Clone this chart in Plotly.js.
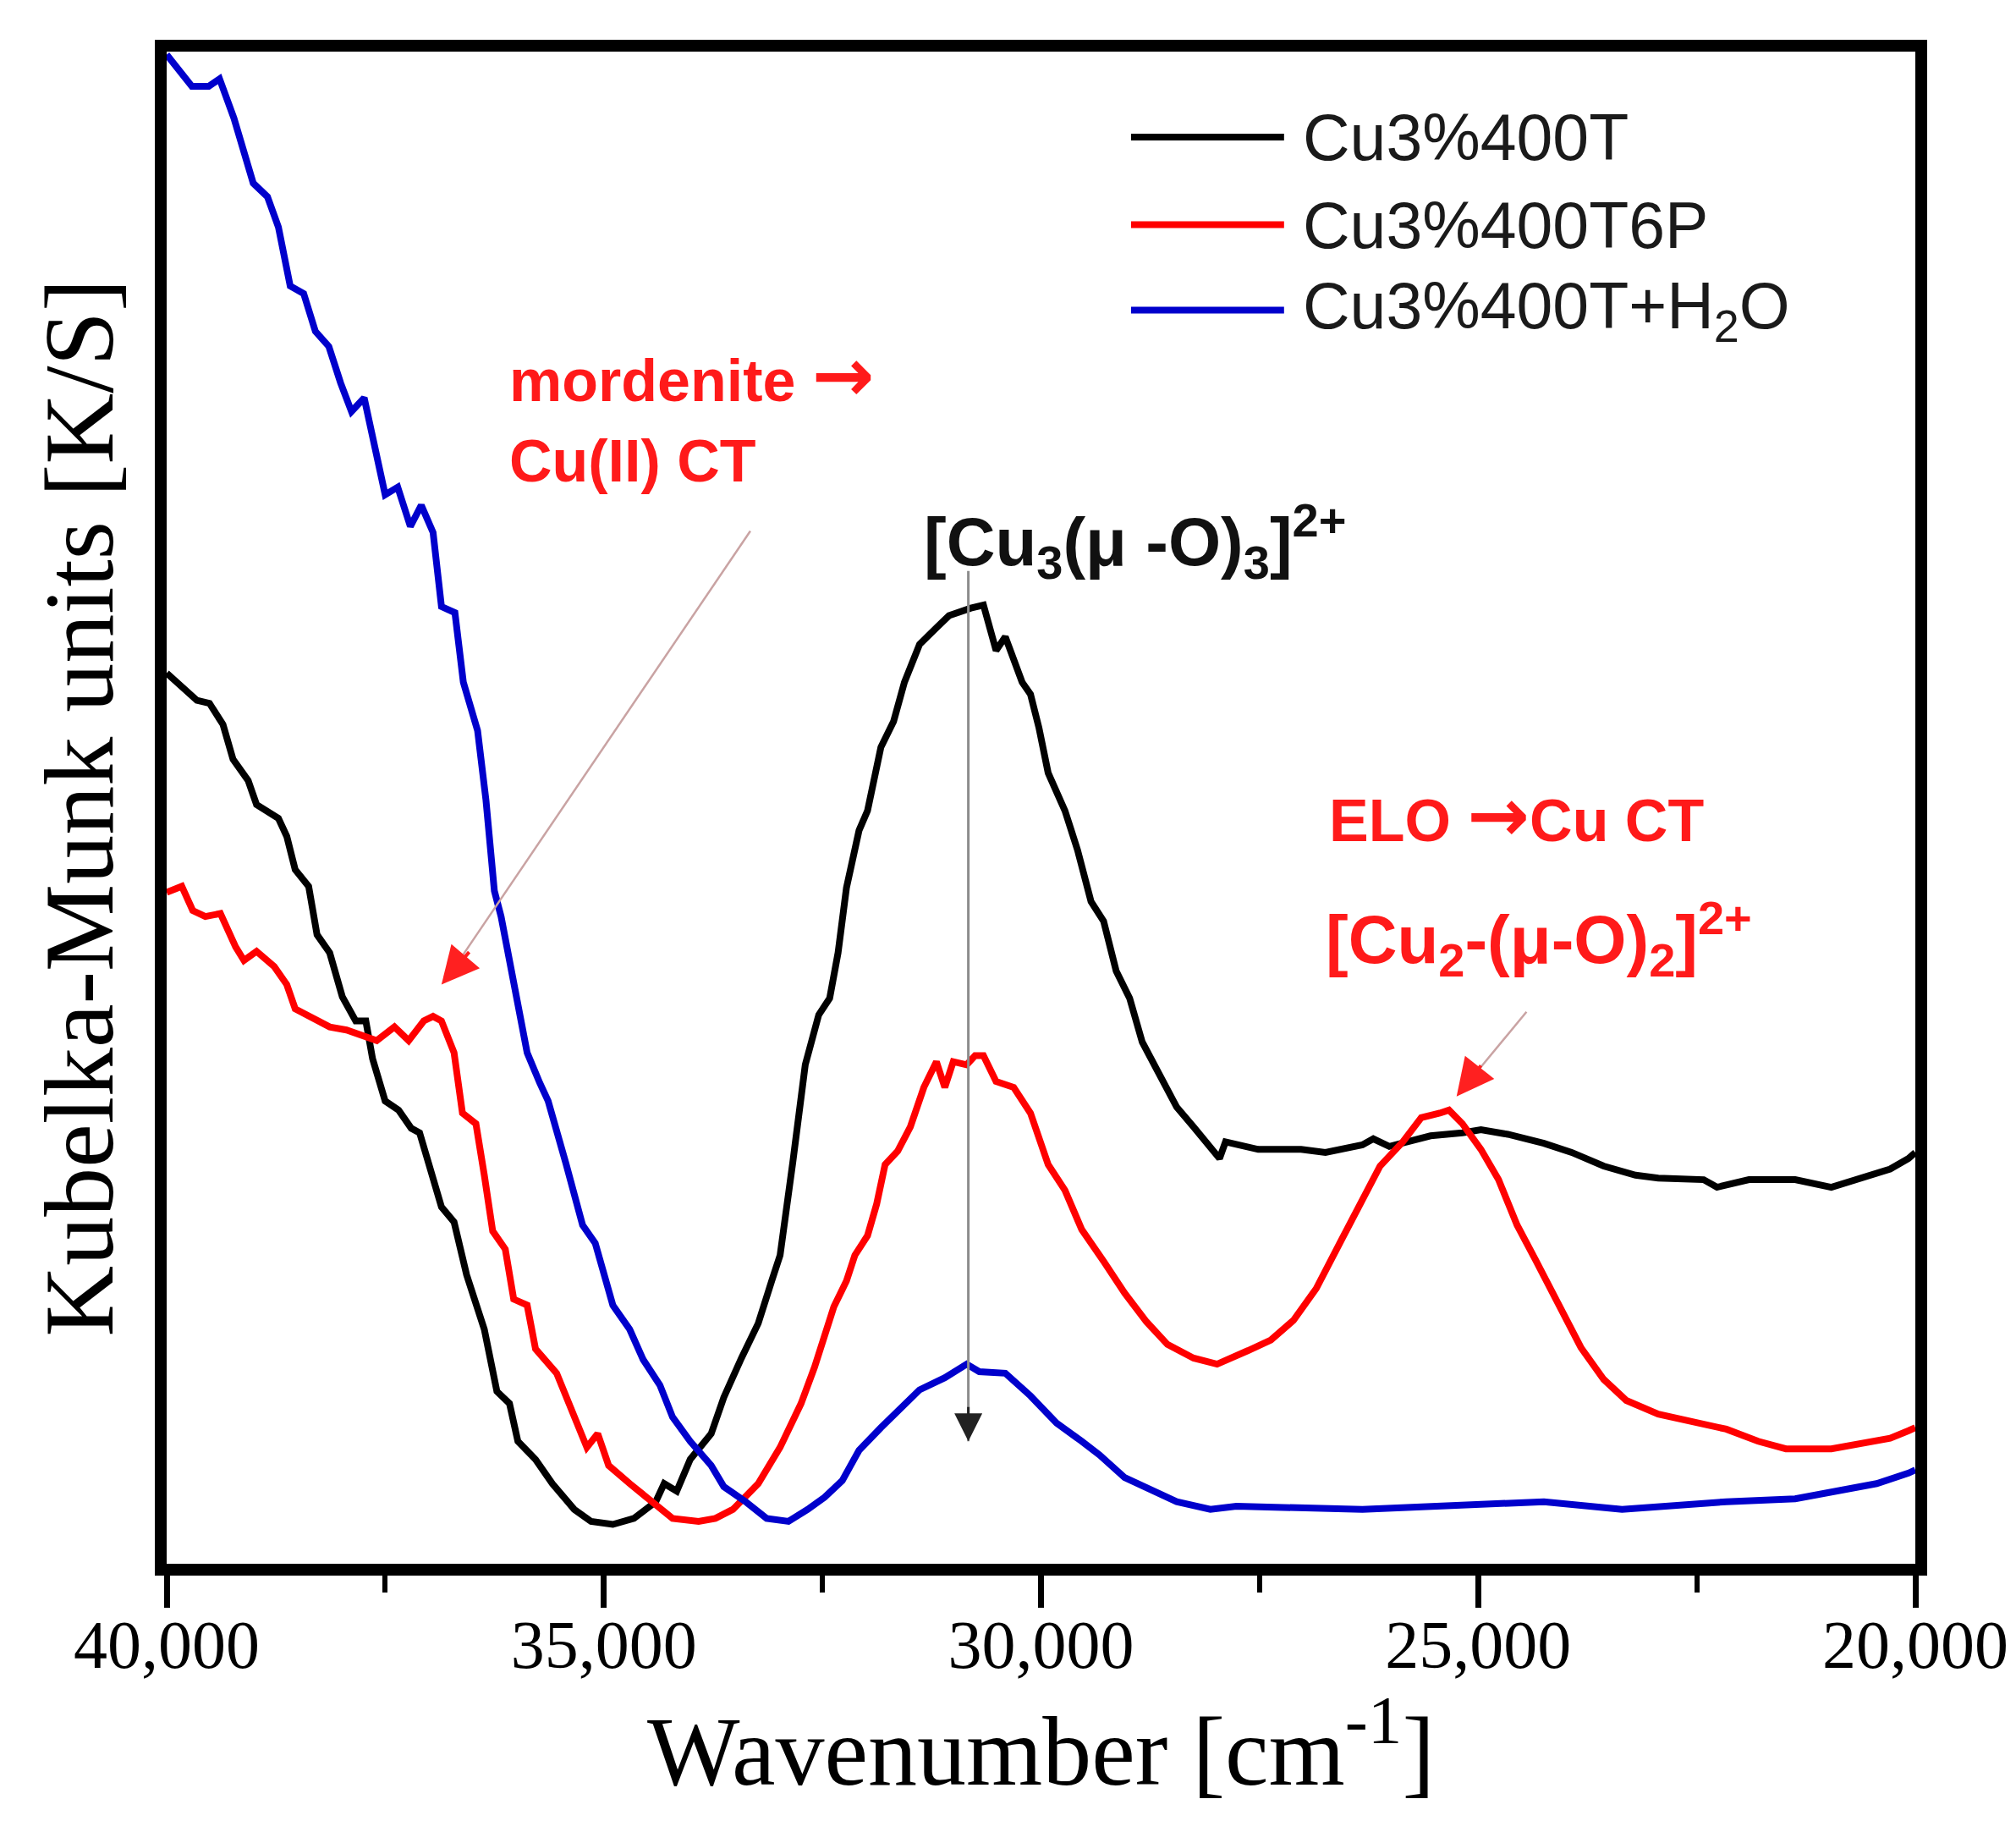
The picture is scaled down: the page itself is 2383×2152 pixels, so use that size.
<!DOCTYPE html>
<html>
<head>
<meta charset="utf-8">
<script src="https://cdn.plot.ly/plotly-3.0.1.min.js"></script>
<style>html,body{margin:0;padding:0;background:#fff;}#chart{width:2383px;height:2152px;}</style>
</head>
<body>
<div id="chart"></div>
<script>
// ---- Data (y in arbitrary K/S units, 0-100) ----
const seriesNames = ['Cu3%400T', 'Cu3%400T6P', 'Cu3%400T+H<sub>2</sub>O'];
const seriesColors = ['#000000', '#ff0000', '#0000cc'];

const wnBlack = [40000,39654,39510,39356,39241,39068,38972,38722,38626,38530,38376,38280,38135,37991,37838,37722,37645,37501,37347,37203,37107,36953,36857,36713,36569,36367,36223,36079,35983,35781,35589,35339,35146,34897,34656,34406,34310,34166,34012,33772,33628,33426,33234,33080,32984,32840,32696,32542,32417,32321,32225,32081,31984,31831,31686,31562,31389,31196,31052,30802,30658,30514,30408,30216,30120,30024,29918,29726,29582,29428,29284,29140,28986,28842,28650,28448,28256,28063,27958,27890,27515,27025,26747,26324,26199,26016,25545,25180,24968,24661,24248,23930,23565,23200,22940,22421,22268,21903,21374,20961,20596,20288,20077,20000];
const kmBlack = [58.9,57.1,56.9,55.5,53.2,51.8,50.2,49.3,48.1,45.9,44.8,41.6,40.4,37.5,35.9,35.9,33.4,30.6,30.0,28.8,28.5,25.3,23.6,22.6,19.1,15.5,11.4,10.6,8.1,6.9,5.3,3.6,2.8,2.6,3.0,4.1,5.3,4.8,6.9,8.6,11.0,13.6,15.9,18.7,20.4,26.5,33.0,36.3,37.4,40.4,44.7,48.5,49.8,54.0,55.7,58.3,60.8,61.9,62.7,63.2,63.4,60.4,61.3,58.3,57.5,55.3,52.3,49.8,47.2,43.8,42.5,39.2,37.4,34.5,32.3,30.2,28.9,27.6,26.8,27.9,27.4,27.4,27.2,27.7,28.1,27.6,28.3,28.5,28.7,28.4,27.8,27.2,26.3,25.7,25.5,25.4,24.9,25.4,25.4,24.9,25.5,26.1,26.8,27.2];

const wnRed = [40000,39827,39702,39558,39385,39212,39116,38972,38770,38626,38530,38328,38135,37943,37741,37597,37395,37232,37059,36953,36857,36713,36617,36463,36367,36271,36127,36031,35877,35781,35540,35339,35194,35070,34945,34704,34454,34214,33916,33724,33522,33234,32984,32744,32590,32369,32225,32129,31984,31879,31783,31638,31494,31340,31196,31100,31004,30850,30754,30658,30514,30312,30120,29918,29726,29534,29284,29043,28793,28553,28255,27986,27631,27371,27112,26852,26583,26324,26122,25862,25651,25439,25334,25180,24968,24767,24555,24344,24084,23825,23565,23306,22940,22421,22162,21797,21480,20961,20596,20288,20077,20000];
const kmRed = [44.4,44.8,43.2,42.8,43.0,40.8,39.9,40.5,39.5,38.3,36.7,36.1,35.5,35.3,34.9,34.6,35.5,34.6,35.9,36.2,35.9,33.8,29.8,29.1,25.7,22.0,20.8,17.5,17.1,14.2,12.6,9.8,7.7,8.6,6.5,5.3,4.1,3.0,2.8,3.0,3.6,5.3,7.7,10.6,13.0,17.0,18.7,20.4,21.7,23.8,26.4,27.3,28.9,31.5,33.2,31.5,33.2,33.0,33.6,33.6,31.9,31.5,29.8,26.4,24.7,22.1,20.0,17.9,16.0,14.5,13.6,13.2,14.1,14.8,16.1,18.2,21.2,24.2,26.3,27.9,29.5,29.8,30.0,29.1,27.4,25.4,22.4,20.1,17.1,14.3,12.2,10.8,9.9,9.3,8.9,8.1,7.6,7.6,8.0,8.3,8.8,9.0];

const wnBlue = [40000,39712,39519,39395,39231,39010,38847,38722,38587,38433,38299,38145,38011,37886,37741,37626,37501,37357,37213,37088,36953,36857,36703,36607,36444,36348,36252,36175,36031,35877,35733,35637,35435,35243,35098,34897,34704,34550,34358,34214,34012,33772,33628,33378,33138,32888,32667,32475,32273,32081,31831,31686,31389,31100,30850,30706,30408,30120,29822,29534,29332,29043,28745,28448,28063,27765,26324,25286,24248,23354,22162,21374,20855,20442,20077,20000];
const kmBlue = [99.8,97.7,97.7,98.2,95.6,91.3,90.4,88.4,84.5,84.0,81.5,80.5,78.1,76.2,77.1,73.9,70.7,71.2,68.6,70.0,68.2,63.3,62.9,58.3,55.1,50.5,44.5,42.8,38.7,33.8,31.8,30.6,26.5,22.4,21.2,17.1,15.5,13.5,11.8,9.7,8.1,6.5,5.1,4.1,3.0,2.8,3.6,4.4,5.5,7.5,9.0,9.8,11.5,12.3,13.2,12.7,12.6,11.1,9.3,8.1,7.2,5.7,4.9,4.1,3.6,3.8,3.6,3.9,4.1,3.6,4.1,4.3,4.8,5.3,6.0,6.2];

const xTickVals = [40000, 35000, 30000, 25000, 20000];
const xTickText = ['40,000', '35,000', '30,000', '25,000', '20,000'];
const xMinorVals = [37500, 32500, 27500, 22500];

const serif = 'Liberation Serif, Times New Roman, serif';
const sans = 'Liberation Sans, Arial, sans-serif';
const ARROW = '<span style="font-family:DejaVu Sans;font-size:88px">→</span>';

const xs = [wnBlack, wnRed, wnBlue];
const ys = [kmBlack, kmRed, kmBlue];
const traces = xs.map((x, i) => ({
  type: 'scatter', mode: 'lines', x: x, y: ys[i], name: seriesNames[i],
  line: {color: seriesColors[i], width: 8}, showlegend: false, hoverinfo: 'skip'
}));

// manual legend (long line samples as in the reference)
const legY = [0.9435, 0.8855, 0.829];
const shapes = seriesNames.map((n, i) => ({
  type: 'line', xref: 'paper', yref: 'paper', x0: 0.5515, x1: 0.639, y0: legY[i], y1: legY[i],
  line: {color: seriesColors[i], width: 8}
}));
const annotations = seriesNames.map((n, i) => ({
  xref: 'paper', yref: 'paper', x: 0.6488, y: legY[i], xanchor: 'left', yanchor: 'middle',
  text: n, showarrow: false, font: {family: sans, size: 77, color: '#1a1a1a'}
}));

// pointer line for mordenite label (pale line, red head)
shapes.push({type: 'line', xref: 'x', yref: 'y', x0: 36857 - 3533, y0: 38.3 + 30.0, x1: 36857 - 250, y1: 38.3 + 2.0,
  line: {color: '#c9a3a3', width: 2.5}});
annotations.push({x: 36857, y: 38.3, xref: 'x', yref: 'y', text: '', showarrow: true,
  ax: 34, ay: -40, arrowhead: 2, arrowsize: 2.2, arrowwidth: 4, arrowcolor: '#ff2020'});
// pointer line for [Cu2(mu-O)2] label
shapes.push({type: 'line', xref: 'x', yref: 'y', x0: 25247 - 800, y0: 30.9 + 5.6, x1: 25247 - 200, y1: 30.9 + 1.4,
  line: {color: '#c9a3a3', width: 2.5}});
annotations.push({x: 25247, y: 30.9, xref: 'x', yref: 'y', text: '', showarrow: true,
  ax: 30, ay: -38, arrowhead: 2, arrowsize: 2.2, arrowwidth: 4, arrowcolor: '#ff2020'});
// vertical grey arrow through the 31,000 band
annotations.push({x: 30831, y: 8.1, xref: 'x', yref: 'y', text: '', showarrow: true,
  ax: 0, ay: -1030, arrowhead: 0, arrowwidth: 3, arrowcolor: '#8c8c8c'});
annotations.push({x: 30831, y: 8.1, xref: 'x', yref: 'y', text: '', showarrow: true,
  ax: 0, ay: -42, arrowhead: 2, arrowsize: 2.2, arrowwidth: 3, arrowcolor: '#222222'});

// text labels
const redBold = {family: sans, size: 70, color: '#ff1a1a', weight: 'bold'};
annotations.push({xref: 'paper', yref: 'paper', x: 0.195, y: 0.786, xanchor: 'left', yanchor: 'middle',
  text: 'mordenite ' + ARROW, showarrow: false, font: redBold});
annotations.push({xref: 'paper', yref: 'paper', x: 0.195, y: 0.729, xanchor: 'left', yanchor: 'middle',
  text: 'Cu(II) CT', showarrow: false, font: redBold});
annotations.push({xref: 'paper', yref: 'paper', x: 0.432, y: 0.676, xanchor: 'left', yanchor: 'middle',
  text: '[Cu<sub>3</sub>(μ -O)<sub>3</sub>]<sup>2+</sup>', showarrow: false,
  font: {family: sans, size: 80, color: '#111111', weight: 'bold'}});
annotations.push({xref: 'paper', yref: 'paper', x: 0.664, y: 0.495, xanchor: 'left', yanchor: 'middle',
  text: 'ELO ' + ARROW + 'Cu CT', showarrow: false, font: redBold});
annotations.push({xref: 'paper', yref: 'paper', x: 0.662, y: 0.413, xanchor: 'left', yanchor: 'middle',
  text: '[Cu<sub>2</sub>-(μ-O)<sub>2</sub>]<sup>2+</sup>', showarrow: false,
  font: {family: sans, size: 80, color: '#ff1a1a', weight: 'bold'}});

const layout = {
  width: 2383, height: 2152, autosize: false,
  paper_bgcolor: '#ffffff', plot_bgcolor: '#ffffff',
  margin: {l: 197, r: 119, t: 61, b: 304},
  showlegend: false,
  xaxis: {
    range: [40000, 20000], showgrid: false, zeroline: false,
    showline: true, linecolor: '#000', linewidth: 14, mirror: true,
    ticks: 'outside', ticklen: 38, tickwidth: 7, tickcolor: '#000',
    tickvals: xTickVals, ticktext: xTickText, ticklabelstandoff: -25,
    minor: {tickvals: xMinorVals, ticks: 'outside', ticklen: 20, tickwidth: 6, tickcolor: '#000'},
    tickfont: {family: serif, size: 80, color: '#000'},
    title: {text: 'Wavenumber [cm<sup>-1</sup>]', font: {family: serif, size: 116, color: '#000'}, standoff: 6}
  },
  yaxis: {
    range: [0, 100], showgrid: false, zeroline: false,
    showline: true, linecolor: '#000', linewidth: 14, mirror: true,
    ticks: '', showticklabels: false,
    title: {text: 'Kubelka-Munk units [K/S]', font: {family: serif, size: 116, color: '#000'}, standoff: 16}
  },
  shapes: shapes,
  annotations: annotations
};

Plotly.newPlot('chart', traces, layout, {staticPlot: true, displayModeBar: false});
</script>
</body>
</html>
